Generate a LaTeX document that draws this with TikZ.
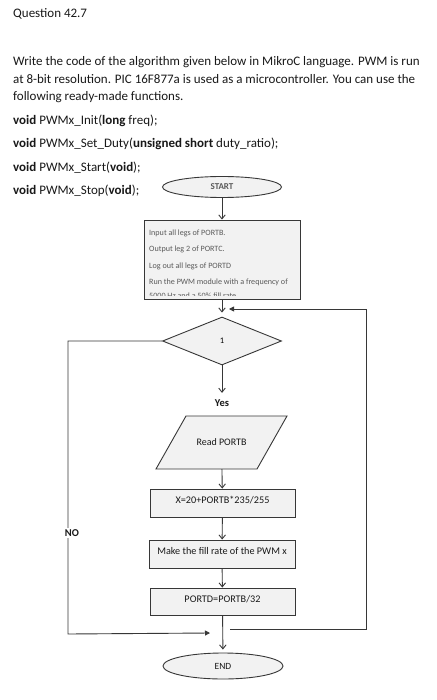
\documentclass[tikz,border=0pt]{standalone}
\usepackage{fontspec}
\setmainfont{Carlito}
\usetikzlibrary{positioning,calc}
\usetikzlibrary{arrows.meta,shapes.geometric}
\definecolor{ShapeFill}{RGB}{242,242,242}
\definecolor{ShapeLine}{RGB}{55,55,55}
\definecolor{NoteGray}{RGB}{90,90,90}
\definecolor{InkBlack}{RGB}{25,25,25}
\tikzset{
  para/.style={anchor=west,inner sep=0pt,text height=9pt,text depth=3pt,
    text=InkBlack,font=\fontsize{13}{15}\selectfont},
  term/.style={ellipse,draw=ShapeLine,fill=ShapeFill,line width=0.9pt,inner sep=0pt},
  proc/.style={rectangle,draw=ShapeLine,fill=ShapeFill,line width=0.9pt,inner sep=0pt,
    minimum width=145,minimum height=28,text height=7pt,text depth=6pt,
    text=InkBlack,font=\fontsize{10.2}{11}\selectfont},
  notebox/.style={rectangle,draw=ShapeLine,fill=ShapeFill,line width=0.9pt,
    minimum width=156,minimum height=79},
  notetext/.style={anchor=west,inner sep=0pt,text=NoteGray,font=\fontsize{8.1}{9}\selectfont},
  dec/.style={diamond,draw=ShapeLine,fill=ShapeFill,line width=0.9pt,inner sep=0pt,
    minimum width=119,minimum height=48,font=\fontsize{8.5}{9}\selectfont},
  io/.style={inner sep=0pt,minimum width=101,minimum height=53,text=InkBlack,
    font=\fontsize{10}{11}\selectfont},
  ioshape/.style={draw=ShapeLine,fill=ShapeFill,line width=0.9pt,line join=miter},
  tag/.style={inner sep=1.5pt,text=InkBlack,font=\bfseries\fontsize{10.5}{12}\selectfont},
  flowarrow/.style={draw=ShapeLine,line width=0.9pt,-{Straight Barb[length=4pt,width=6.5pt]}},
  retarrow/.style={draw=ShapeLine,line width=0.9pt,-{Triangle[length=5pt,width=5pt]}},
}

\begin{document}
\begin{tikzpicture}[x=1pt,y=-1pt]
\useasboundingbox[fill=white] (0,0) rectangle (436,700);
\foreach \y/\txt [count=\k] in {15/{Question 42.7},
  63/{Write the code of the algorithm given below in MikroC language. PWM is run},
  81/{at 8-bit resolution. PIC 16F877a is used as a microcontroller. You can use the},
  98/{following ready-made functions.},
  122/{\textbf{void} PWMx\_Init(\textbf{long} freq);},
  145/{\textbf{void} PWMx\_Set\_Duty(\textbf{unsigned short} duty\_ratio);},
  169/{\textbf{void} PWMx\_Start(\textbf{void});},
  192/{\textbf{void} PWMx\_Stop(\textbf{void});}}
  \node[para] (p\k) at (13,\y) {\txt};

\node[term,minimum width=119,minimum height=21,text=NoteGray,
  font=\bfseries\fontsize{9}{10}\selectfont] (start) at (222,187) {START};
\node[notebox] (init) at (222,259.5) {};
\begin{scope}
\clip (init.north west) rectangle ([yshift=4pt]init.south east);
\foreach \y/\txt [count=\k] in {233/{Input all legs of PORTB.},
  249/{Output leg 2 of PORTC.},
  266/{Log out all legs of PORTD},
  282/{Run the PWM module with a frequency of},
  296/{5000 Hz and a 50\% fill rate}}
  \node[notetext] (n\k) at (149,\y) {\txt};
\end{scope}
\node[dec] (cond) at (222,341) {1};
\node[tag] (yes) at (222,403) {Yes};
\coordinate (readc) at (221.5,442.5);
\draw[ioshape] ($(readc)+(-65.5,26.5)$) -- ($(readc)+(-35.5,-26.5)$)
  -- ($(readc)+(65.5,-26.5)$) -- ($(readc)+(35.5,26.5)$) -- cycle;
\node[io] (read) at (readc) {Read PORTB};
\node[proc] (calc) at (222.5,503) {X=20+PORTB*235/255};
\node[proc,minimum width=146] (duty) at (222,554) {Make the fill rate of the PWM x};
\node[proc,minimum height=27] (portd) at (222.5,601.5) {PORTD=PORTB/32};
\node[term,minimum width=120,minimum height=26,text=InkBlack,
  font=\fontsize{9.5}{10}\selectfont] (end) at (223,666) {END};

\coordinate (reentry) at (229,309);
\coordinate (rgap) at (230,629);
\coordinate (lentry) at (210,633);

\draw[flowarrow] (start) -- (init);
\draw[flowarrow,shorten >=4pt] (init) -- (cond);
\draw[flowarrow,shorten >=5pt] (cond) -- (yes);
\draw[flowarrow] (read) -- (calc);
\draw[flowarrow] (calc) -- (duty);
\draw[flowarrow] (duty) -- (portd);
\draw[flowarrow,shorten >=3pt] (portd) -- (end);
\draw[retarrow] (rgap) -| (366,309) -- (reentry);
\draw[retarrow] (cond.west) -| (68,634) -- (lentry);
\node[tag,fill=white] (no) at (72,533) {NO};
\end{tikzpicture}
\end{document}
